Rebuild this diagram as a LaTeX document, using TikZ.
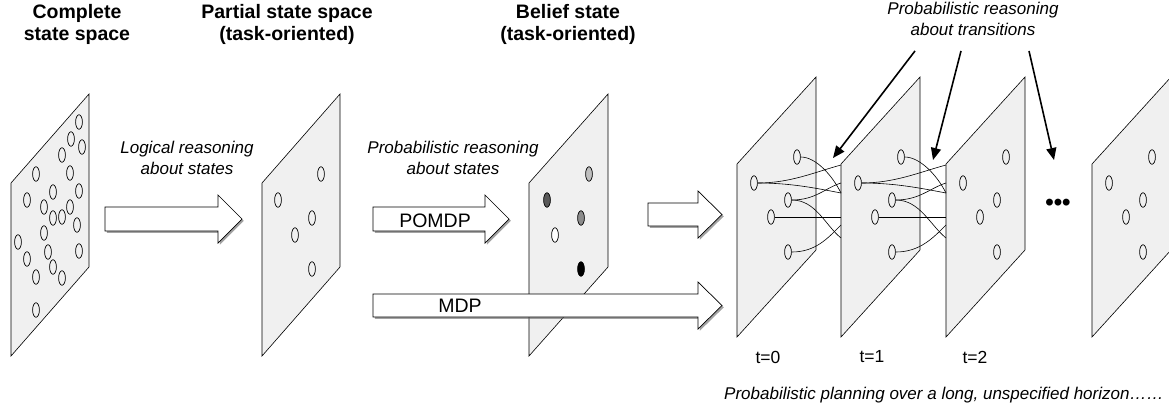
\documentclass[tikz,border=0pt]{standalone}
\usepackage{fontspec}
\setmainfont{Liberation Sans}
\usetikzlibrary{positioning, shapes.geometric, arrows.meta, shadows}

\newcommand{\fatarrow}[5]{%
	\draw[fat] (#1,#4) -- (#2,#4) -- (#2,#4-12) -- (#3,{(#4+#5)/2}) -- (#2,#5+12) -- (#2,#5) -- (#1,#5) -- cycle;}

\begin{document}
\begin{tikzpicture}[x=1pt, y=-1pt,
	sheet/.style={draw, fill=black!6, line width=0.6pt},
	state/.style={ellipse, draw, line width=0.7pt, inner sep=0pt, minimum width=6.8pt, minimum height=14.5pt},
	link/.style={line width=0.6pt},
	fat/.style={draw, fill=white, line width=0.7pt, drop shadow={shadow xshift=1.8pt, shadow yshift=-1.8pt, fill=black!60, opacity=0.6}},
	pointer/.style={line width=1.6pt, -{Triangle[length=12pt, width=10pt]}},
	heading/.style={font=\fontsize{19.5}{22}\selectfont\bfseries, align=center, inner sep=0pt},
	remark/.style={font=\fontsize{17}{21}\selectfont\itshape, align=center, inner sep=0pt},
	tag/.style={font=\fontsize{17.5}{21}\selectfont, inner sep=0pt}]
	\useasboundingbox (0,0) rectangle (1169,408);

	\node[heading] (complete) at (77,24) {Complete\\state space};
	\node[heading] (partial) at (287,24.5) {Partial state space\\(task-oriented)};
	\node[heading] (belief) at (568,24.5) {Belief state\\(task-oriented)};
	\node[remark] (logical) at (187,158) {Logical reasoning\\about states};
	\node[remark] (probstates) at (453,158) {Probabilistic reasoning\\about states};
	\node[remark] (trans) at (973,19) {Probabilistic reasoning\\about transitions};

	% complete state space
	\draw[sheet] (11,183) -- ++(78,-89) -- ++(0,173) -- ++(-78,89) -- cycle;
	\foreach \x/\y [count=\i] in {79/122, 71/139, 82/147, 62/155, 36/174, 70/173, 79/191, 53/192,
		27/200, 44/207, 70/207, 62/217, 53/218, 77/225, 44/233, 18/242, 79/251, 48/252,
		27/259, 53/267, 36/277, 62/278, 36/310}
		\node[state] (c\i) at (\x,\y) {};

	\fatarrow{105}{218}{242}{207}{231}

	% partial state space
	\draw[sheet] (262,183) -- ++(78,-89) -- ++(0,173) -- ++(-78,89) -- cycle;
	\node[state] (p1) at (321,174) {};
	\node[state] (p2) at (278,200) {};
	\node[state] (p3) at (312,218) {};
	\node[state] (p4) at (295,235) {};
	\node[state] (p5) at (312,269) {};

	% belief state
	\fatarrow{373}{485}{509}{207}{231}
	\node[font=\fontsize{19.5}{22}\selectfont, inner sep=0pt] (pomdp) at (435,220.5) {POMDP};
	\draw[sheet] (529,183) -- ++(79,-89) -- ++(0,173) -- ++(-79,89) -- cycle;
	\node[state, fill=black!25] (b1) at (589,174) {};
	\node[state, fill=black!65] (b2) at (547,200) {};
	\node[state, fill=black!45] (b3) at (581,218) {};
	\node[state, fill=white] (b4) at (555,235) {};
	\node[state, fill=black] (b5) at (581,269) {};
	\fatarrow{373}{698}{722}{294}{317}
	\node[font=\fontsize{19.5}{22}\selectfont, inner sep=0pt] (mdp) at (460,305.5) {MDP};
	\fatarrow{648}{698}{722}{203}{226}

	% time slices
	\foreach \p/\x in {0/737, 1/841, 2/946, 3/1092} {
		\draw[sheet] (\x,164) -- ++(79,-87) -- ++(0,173) -- ++(-79,87) -- cycle;
		\node[state] (s\p a) at (\x+60,157) {};
		\node[state] (s\p b) at (\x+17,183) {};
		\node[state] (s\p c) at (\x+51,200) {};
		\node[state] (s\p d) at (\x+34,217) {};
		\node[state] (s\p e) at (\x+51,252) {};
	}
	\foreach \p/\q/\x in {0/1/841, 1/2/946} {
		\coordinate (i\q a) at (\x,165);
		\coordinate (i\q b) at (\x,183);
		\coordinate (i\q c) at (\x,193);
		\coordinate (i\q d) at (\x,217);
		\coordinate (i\q e) at (\x,225);
		\coordinate (i\q f) at (\x,238);
		\draw[link] (s\p a.east) .. controls +(15,0) and +(-9,-18) .. (i\q c);
		\draw[link] (s\p b.east) .. controls +(33,0) and +(-26,7) .. (i\q a);
		\draw[link] (s\p b.east) .. controls +(33,0) and +(-26,-5) .. (i\q c);
		\draw[link] (s\p c.east) .. controls +(24,0) and +(-16,5) .. (i\q b);
		\draw[link] (s\p c.east) .. controls +(24,0) and +(-16,-13) .. (i\q f);
		\draw[link] (s\p d.east) -- (i\q d);
		\draw[link] (s\p e.east) .. controls +(24,0) and +(-13,13) .. (i\q e);
	}
	\node[font=\fontsize{24}{24}\selectfont\bfseries, inner sep=0pt] (dots) at (1058,205) {•••};

	\foreach \p/\x in {0/768, 1/872, 2/975}
		\node[tag] (t\p) at (\x,357) {t=\p};
	\node[remark, anchor=west] (horizon) at (724,395) {Probabilistic planning over a long, unspecified horizon……};

	\coordinate (tip1) at (833,158);
	\coordinate (tip2) at (933,160);
	\coordinate (tip3) at (1054,160);
	\draw[pointer] ([shift={(-58,15)}]trans.south) -- (tip1);
	\draw[pointer] ([shift={(-12,15)}]trans.south) -- (tip2);
	\draw[pointer] ([shift={(56,15)}]trans.south) -- (tip3);
\end{tikzpicture}
\end{document}
